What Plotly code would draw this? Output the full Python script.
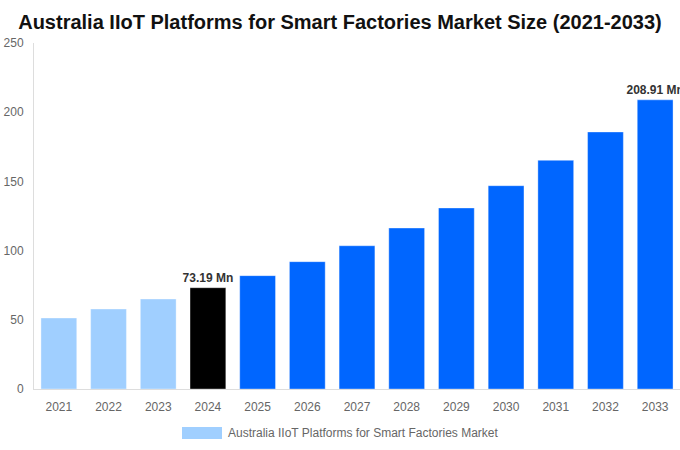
import plotly.graph_objects as go

years = ["2021", "2022", "2023", "2024", "2025", "2026", "2027", "2028", "2029", "2030", "2031", "2032", "2033"]
values = [51.3, 57.8, 65.0, 73.19, 81.9, 92.0, 103.5, 116.3, 130.8, 146.9, 165.2, 185.7, 208.91]
labels = ["", "", "", "73.19 Mn", "", "", "", "", "", "", "", "", "208.91 Mn"]
colors = ["#a0cfff"] * 3 + ["#000000"] + ["#0066ff"] * 9
series_name = "Australia IIoT Platforms for Smart Factories Market"
legend_color = "#a0cfff"
y_ticks = [0, 50, 100, 150, 200, 250]

fig = go.Figure()
fig.add_trace(go.Bar(
    x=years, y=values, name=series_name,
    marker=dict(color=colors, line=dict(color="rgba(255,255,255,0.35)", width=1)),
    text=labels, textposition="outside", cliponaxis=False, constraintext="none",
    textfont=dict(family="Liberation Sans, Arial", size=12, color="#333333", weight="bold"),
    showlegend=False, hoverinfo="skip",
))

# legend (swatch + real text)
fig.add_shape(type="rect", xref="paper", yref="paper",
              x0=(182 - 34) / 646, x1=(222 - 34) / 646,
              y0=-(439 - 389) / 346, y1=-(427 - 389) / 346,
              fillcolor=legend_color, line=dict(width=0))
fig.add_annotation(text=series_name, xref="paper", yref="paper",
                   x=(226 - 34) / 646, xanchor="left",
                   y=-(433 - 389) / 346, yanchor="middle", showarrow=False,
                   font=dict(size=12, color="#666666"))

fig.update_layout(
    width=680, height=450,
    margin=dict(l=34, r=0, t=43, b=61, autoexpand=False),
    paper_bgcolor="white", plot_bgcolor="white",
    font=dict(family="Liberation Sans, Arial", size=12, color="#666666"),
    title=dict(text="<b>Australia IIoT Platforms for Smart Factories Market Size (2021-2033)</b>",
               x=(340 - 34) / 646, xanchor="center", xref="paper", yref="container", y=0.951, yanchor="middle",
               font=dict(size=20, color="#111111")),
    bargap=0.28,
    showlegend=False,
)
fig.update_xaxes(type="category", showline=True, linecolor="#dddddd", linewidth=1, showgrid=False,
                 ticks="outside", ticklen=7, tickcolor="rgba(0,0,0,0)", automargin=False,
                 tickfont=dict(size=12, color="#666666"))
fig.update_yaxes(range=[0, 250], tickvals=y_ticks, showline=True, linecolor="#dddddd",
                 linewidth=1, showgrid=False, zeroline=False,
                 ticks="outside", ticklen=7, tickcolor="rgba(0,0,0,0)", automargin=False,
                 tickfont=dict(size=12, color="#666666"))

fig.write_html("out.html", config={"displayModeBar": False},
               post_script="document.body.style.margin='0px';document.body.style.overflow='hidden';")
